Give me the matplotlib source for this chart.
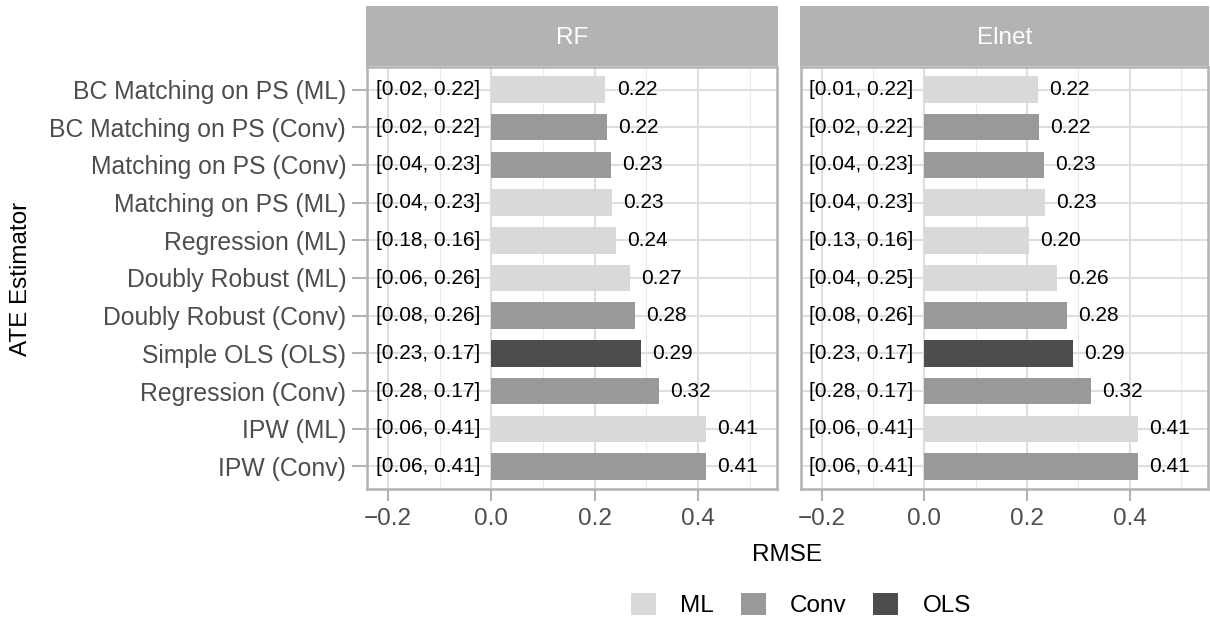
import matplotlib
matplotlib.use("Agg")
import matplotlib.pyplot as plt
from matplotlib.patches import Rectangle, Patch

plt.rcParams['font.family'] = ['Liberation Sans', 'DejaVu Sans']

estimators = ["BC Matching on PS (ML)", "BC Matching on PS (Conv)", "Matching on PS (Conv)",
              "Matching on PS (ML)", "Regression (ML)", "Doubly Robust (ML)",
              "Doubly Robust (Conv)", "Simple OLS (OLS)", "Regression (Conv)",
              "IPW (ML)", "IPW (Conv)"]
groups = ["ML", "Conv", "Conv", "ML", "ML", "ML", "Conv", "OLS", "Conv", "ML", "Conv"]

rf_rmse = [0.221, 0.224, 0.232, 0.233, 0.241, 0.268, 0.278, 0.289, 0.324, 0.416, 0.416]
rf_labels = ["0.22", "0.22", "0.23", "0.23", "0.24", "0.27", "0.28", "0.29", "0.32", "0.41", "0.41"]
rf_ci = ["[0.02, 0.22]", "[0.02, 0.22]", "[0.04, 0.23]", "[0.04, 0.23]", "[0.18, 0.16]",
         "[0.06, 0.26]", "[0.08, 0.26]", "[0.23, 0.17]", "[0.28, 0.17]", "[0.06, 0.41]", "[0.06, 0.41]"]

el_rmse = [0.221, 0.224, 0.233, 0.235, 0.204, 0.258, 0.278, 0.289, 0.324, 0.416, 0.416]
el_labels = ["0.22", "0.22", "0.23", "0.23", "0.20", "0.26", "0.28", "0.29", "0.32", "0.41", "0.41"]
el_ci = ["[0.01, 0.22]", "[0.02, 0.22]", "[0.04, 0.23]", "[0.04, 0.23]", "[0.13, 0.16]",
         "[0.04, 0.25]", "[0.08, 0.26]", "[0.23, 0.17]", "[0.28, 0.17]", "[0.06, 0.41]", "[0.06, 0.41]"]

colors = {"ML": "#d9d9d9", "Conv": "#999999", "OLS": "#4d4d4d"}
facets = ["RF", "Elnet"]
x_ticks = [-0.2, 0.0, 0.2, 0.4]
x_tick_labels = ["\u22120.2", "0.0", "0.2", "0.4"]

W, H = 1210, 620
fig = plt.figure(figsize=(W / 100, H / 100), dpi=100)

def fx(px):
    return px / W

def fy(py):
    return 1 - py / H

panel_top, panel_bot = 67, 489
strip_top, strip_bot = 6, 66
panels = [(367, 777), (801, 1208)]
datasets = [(rf_rmse, rf_labels, rf_ci), (el_rmse, el_labels, el_ci)]
border = "#b3b3b3"
n = len(estimators)
ypos = list(range(n))[::-1]

for i, ((l, r), (vals, labs, cis)) in enumerate(zip(panels, datasets)):
    ax = fig.add_axes([fx(l), fy(panel_bot), fx(r - l), (panel_bot - panel_top) / H])
    ax.set_xlim(-0.2406, 0.553)
    ax.set_ylim(-0.6, n - 0.4)
    for xv in [-0.1, 0.1, 0.3, 0.5]:
        ax.axvline(xv, color="#ebebeb", lw=0.8, zorder=0)
    for xv in x_ticks:
        ax.axvline(xv, color="#dedede", lw=1.5, zorder=0)
    for yv in ypos:
        ax.axhline(yv, color="#dedede", lw=1.5, zorder=0)
    ax.barh(ypos, vals, height=0.7, color=[colors[g] for g in groups], zorder=2)
    for yv, v, lab, ci in zip(ypos, vals, labs, cis):
        ax.text(v + 0.022, yv, lab, ha="left", va="center", fontsize=15, color="black", zorder=3)
        ax.text(-0.123, yv, ci, ha="center", va="center", fontsize=15, color="black", zorder=3)
    ax.set_xticks(x_ticks)
    ax.set_xticklabels(x_tick_labels, fontsize=17.5, color="#4d4d4d")
    ax.tick_params(axis="x", length=8.6, color="#b3b3b3", width=1.5, pad=5)
    ax.set_yticks(ypos)
    if i == 0:
        ax.set_yticklabels(estimators, fontsize=17.8, color="#4d4d4d")
        ax.tick_params(axis="y", length=11, color="#b3b3b3", width=1.5, pad=4)
    else:
        ax.set_yticklabels([])
        ax.tick_params(axis="y", length=0)
    for s in ax.spines.values():
        s.set_color(border)
        s.set_linewidth(1.8)
    ax.set_facecolor("white")
    # strip
    sax = fig.add_axes([fx(l - 1), fy(strip_bot), fx(r - l + 2), (strip_bot - strip_top) / H])
    sax.set_xlim(0, 1)
    sax.set_ylim(0, 1)
    sax.add_patch(Rectangle((0, 0), 1, 1, color=border))
    sax.text(0.5, 0.47, facets[i], ha="center", va="center", color="white", fontsize=17.5)
    sax.axis("off")

fig.text(fx(787), fy(555), "RMSE", ha="center", va="center", fontsize=17.5)
fig.text(fx(21), fy(279), "ATE Estimator", ha="center", va="center", rotation=90, fontsize=17.5)

handles = [Patch(facecolor=colors[k], edgecolor="none") for k in ["ML", "Conv", "OLS"]]
fig.legend(handles, ["ML", "Conv", "OLS"], loc="center", bbox_to_anchor=(fx(801), fy(605)),
           ncol=3, frameon=False, fontsize=17.5, handlelength=1.03, handleheight=1.03,
           handletextpad=1.0, columnspacing=1.1, borderpad=0, borderaxespad=0)

fig.savefig("out.png", dpi=100)
